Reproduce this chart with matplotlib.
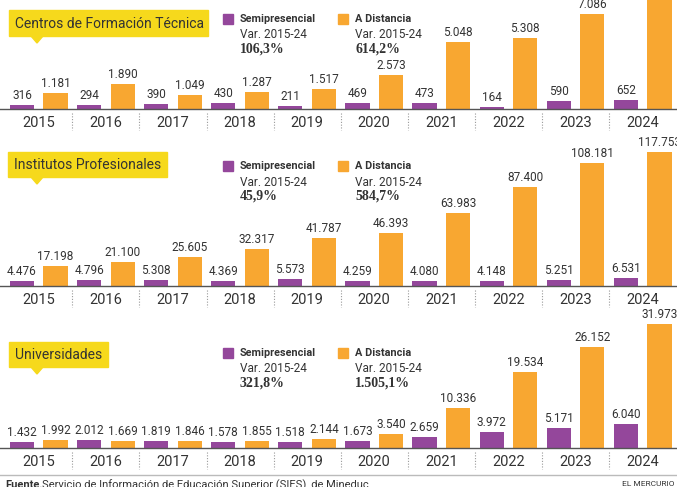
import matplotlib.pyplot as plt
from matplotlib.patches import Rectangle, Polygon

years = ["2015", "2016", "2017", "2018", "2019", "2020", "2021", "2022", "2023", "2024"]

cft_semi = [316, 294, 390, 430, 211, 469, 473, 164, 590, 652]
cft_dist = [1181, 1890, 1049, 1287, 1517, 2573, 5048, 5308, 7086, 8435]
ip_semi = [4476, 4796, 5308, 4369, 5573, 4259, 4080, 4148, 5251, 6531]
ip_dist = [17198, 21100, 25605, 32317, 41787, 46393, 63983, 87400, 108181, 117753]
u_semi = [1432, 2012, 1819, 1578, 1518, 1673, 2659, 3972, 5171, 6040]
u_dist = [1992, 1669, 1846, 1855, 2144, 3540, 10336, 19534, 26152, 31973]

titles = ["Centros de Formación Técnica", "Institutos Profesionales", "Universidades"]
var_semi = ["106,3%", "45,9%", "321,8%"]
var_dist = ["614,2%", "584,7%", "1.505,1%"]

PURPLE = "#94479b"
ORANGE = "#f8a731"
YELLOW = "#f6d91c"
TXT = "#333333"

W, H = 677, 487
fig = plt.figure(figsize=(W / 100, H / 100), dpi=100)


def fx(x):
    return x / W


def fy(y):
    return 1 - y / H


def fmt(v):
    return f"{v:,}".replace(",", ".")


# baseline (px from top), scale (px per unit), axes height (px)
panels = [
    (109, 0.01335, 109, cft_semi, cft_dist),
    (285.7, 0.001133, 150, ip_semi, ip_dist),
    (447.7, 0.00386, 140, u_semi, u_dist),
]
# title box: x0, y0, x1, y1 ; legend rows y
boxes = [(9, 10, 208, 36), (8, 152, 167, 177), (9, 342, 108, 367)]
legend_y = [(19, 34, 49), (166, 182, 196), (353, 368, 383)]

x0_data = -38.75 / 67.1
x1_data = (W - 38.75) / 67.1

for k, (base, sc, hpx, semi, dist) in enumerate(panels):
    ax = fig.add_axes([0, fy(base), 1, hpx / H])
    ax.set_xlim(x0_data, x1_data)
    ax.set_ylim(0, hpx / sc)
    ax.patch.set_visible(False)
    for s in ["top", "right", "left"]:
        ax.spines[s].set_visible(False)
    ax.spines["bottom"].set_color("#555555")
    ax.spines["bottom"].set_linewidth(1)
    ax.set_yticks([])
    ax.set_xticks(range(10), years)
    ax.tick_params(axis="x", length=0, pad=5, labelsize=10.5, labelcolor=TXT)
    for lab in ax.get_xticklabels():
        lab.set_fontfamily("Roboto")

    xs = list(range(10))
    ax.bar([x - 0.25 for x in xs], semi, width=0.36, color=PURPLE, clip_on=False)
    ax.bar([x + 0.25 for x in xs], dist, width=0.36, color=ORANGE, clip_on=False)
    for x, v in zip(xs, semi):
        ax.text(x - 0.25, v + 3 / sc, fmt(v), ha="center", va="bottom",
                fontsize=8.5, color=TXT, family="Roboto", clip_on=False)
    for x, v in zip(xs, dist):
        ax.text(x + 0.25, v + 3 / sc, fmt(v), ha="center", va="bottom",
                fontsize=8.5, color=TXT, family="Roboto", clip_on=False)
    ax.vlines([x + 0.5 for x in xs[:-1]], -4 / sc, -21 / sc, colors="#999999",
              linestyles=(0, (1, 1.5)), linewidth=0.8, clip_on=False)

    # title box with pointer
    bx0, by0, bx1, by1 = boxes[k]
    fig.patches.append(Rectangle((fx(bx0), fy(by1)), fx(bx1 - bx0), (by1 - by0) / H,
                                 transform=fig.transFigure, color=YELLOW, zorder=0))
    fig.patches.append(Polygon([(fx(31), fy(by1)), (fx(43), fy(by1)), (fx(37), fy(by1 + 7))],
                               closed=True, transform=fig.transFigure, color=YELLOW))
    fig.text(fx(bx0 + 6), fy((by0 + by1) / 2 + 0.5), titles[k], ha="left", va="center",
             fontsize=10, color=TXT, family="Roboto")

    # legend blocks
    r1, r2, r3 = legend_y[k]
    for lx, col, name, var in [(223, PURPLE, "Semipresencial", var_semi[k]),
                               (338, ORANGE, "A Distancia", var_dist[k])]:
        fig.patches.append(Rectangle((fx(lx), fy(r1 + 5)), fx(10), 10 / H,
                                     transform=fig.transFigure, color=col))
        fig.text(fx(lx + 17), fy(r1), name, ha="left", va="center", fontsize=7.8,
                 fontweight="bold", color=TXT, family="Roboto")
        fig.text(fx(lx + 17), fy(r2), "Var. 2015-24", ha="left", va="center",
                 fontsize=8.5, color=TXT, family="Roboto")
        fig.text(fx(lx + 17), fy(r3), var, ha="left", va="center", fontsize=10,
                 fontweight="bold", color=TXT, family="Liberation Serif")

# footer
fig.add_artist(plt.Line2D([0, 1], [fy(475), fy(475)], color="#bbbbbb", linewidth=1,
                          transform=fig.transFigure))
fig.text(fx(5), fy(479.5), "Fuente.", ha="left", va="top", fontsize=8, color=TXT,
         fontweight="bold", family="Roboto")
fig.text(fx(42), fy(479.5), "Servicio de Información de Educación Superior (SIES), de Mineduc.",
         ha="left", va="top", fontsize=8, color=TXT, family="Roboto")
fig.text(fx(674), fy(481), "EL MERCURIO", ha="right", va="top", fontsize=6,
         color=TXT, family="Roboto")

fig.savefig("out.png", dpi=100)
